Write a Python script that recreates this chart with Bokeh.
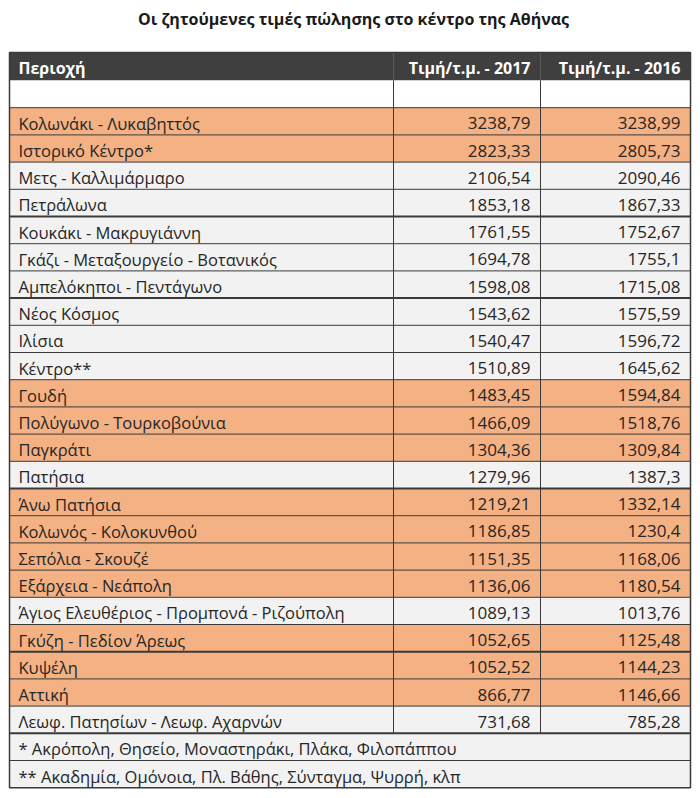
from bokeh.plotting import figure
from bokeh.models import Range1d
from bokeh.core.properties import value
from bokeh.embed import file_html
from bokeh.resources import INLINE

# ---------------- data ----------------
title = "Οι ζητούμενες τιμές πώλησης στο κέντρο της Αθήνας"
headers = ["Περιοχή", "Τιμή/τ.μ. - 2017", "Τιμή/τ.μ. - 2016"]
regions = [
    "Κολωνάκι - Λυκαβηττός",
    "Ιστορικό Κέντρο*",
    "Μετς - Καλλιμάρμαρο",
    "Πετράλωνα",
    "Κουκάκι - Μακρυγιάννη",
    "Γκάζι - Μεταξουργείο - Βοτανικός",
    "Αμπελόκηποι - Πεντάγωνο",
    "Νέος Κόσμος",
    "Ιλίσια",
    "Κέντρο**",
    "Γουδή",
    "Πολύγωνο - Τουρκοβούνια",
    "Παγκράτι",
    "Πατήσια",
    "Άνω Πατήσια",
    "Κολωνός - Κολοκυνθού",
    "Σεπόλια - Σκουζέ",
    "Εξάρχεια - Νεάπολη",
    "Άγιος Ελευθέριος - Προμπονά - Ριζούπολη",
    "Γκύζη - Πεδίον Άρεως",
    "Κυψέλη",
    "Αττική",
    "Λεωφ. Πατησίων - Λεωφ. Αχαρνών",
]
price_2017 = [3238.79, 2823.33, 2106.54, 1853.18, 1761.55, 1694.78, 1598.08,
              1543.62, 1540.47, 1510.89, 1483.45, 1466.09, 1304.36, 1279.96,
              1219.21, 1186.85, 1151.35, 1136.06, 1089.13, 1052.65, 1052.52,
              866.77, 731.68]
price_2016 = [3238.99, 2805.73, 2090.46, 1867.33, 1752.67, 1755.1, 1715.08,
              1575.59, 1596.72, 1645.62, 1594.84, 1518.76, 1309.84, 1387.3,
              1332.14, 1230.4, 1168.06, 1180.54, 1013.76, 1125.48, 1144.23,
              1146.66, 785.28]
highlight = [1, 1, 0, 0, 0, 0, 0, 0, 0, 0, 1, 1, 1, 0, 1, 1, 1, 1, 0, 1, 1, 1, 0]
footnotes = [
    "* Ακρόπολη, Θησείο, Μοναστηράκι, Πλάκα, Φιλοπάππου",
    "** Ακαδημία, Ομόνοια, Πλ. Βάθης, Σύνταγμα, Ψυρρή, κλπ",
]

# ---------------- styling ----------------
FONT = value("Open Sans")
ORANGE = "#F4B183"
GRAY = "#F2F2F2"
HEAD = "#3F3F3F"
LINE = "#3A3A3A"
TXT = "#262626"

X0, X1, X2, X3 = 9, 393, 540, 690
HEAD_TOP, HEAD_BOT = 52, 80
ROW_H = 27.2
PAD = 10
DY = 2


def fmt(v):
    s = f"{v:.2f}".rstrip("0").rstrip(".")
    return s.replace(".", ",")


n = len(regions)
row_top = [HEAD_BOT + (i + 1) * ROW_H for i in range(n)]
row_mid = [t + ROW_H / 2 for t in row_top]
fn_top = [HEAD_BOT + (n + 1 + j) * ROW_H for j in range(len(footnotes))]
fn_mid = [t + ROW_H / 2 for t in fn_top]
TABLE_BOT = fn_top[-1] + ROW_H

p = figure(width=700, height=798,
           x_range=Range1d(0, 700), y_range=Range1d(798, 0),
           output_backend="svg", toolbar_location=None, min_border=0,
           x_axis_location=None, y_axis_location=None)
p.grid.visible = False
p.outline_line_color = None
p.background_fill_color = "white"
p.border_fill_color = "white"

# title
p.text(x=[353], y=[18], text=[title], text_font=FONT, text_font_size="16px",
       text_font_style="bold", text_align="center", text_baseline="middle",
       text_color="#1a1a1a")

# header
p.quad(left=[X0], right=[X3], top=[HEAD_TOP], bottom=[HEAD_BOT],
       fill_color=HEAD, line_color=None)
p.text(x=[X0 + 9], y=[(HEAD_TOP + HEAD_BOT) / 2 + 1], text=[headers[0]],
       text_font=FONT, text_font_size="16px", text_font_style="bold",
       text_color="white", text_align="left", text_baseline="middle")
p.text(x=[X2 - PAD, X3 - PAD], y=[(HEAD_TOP + HEAD_BOT) / 2 + 1] * 2,
       text=headers[1:], text_font=FONT, text_font_size="16px",
       text_font_style="bold", text_color="white", text_align="right",
       text_baseline="middle")

# blank row
p.quad(left=[X0], right=[X3], top=[HEAD_BOT], bottom=[HEAD_BOT + ROW_H],
       fill_color="white", line_color=None)

# data rows
colors = [ORANGE if h else GRAY for h in highlight]
p.quad(left=[X0] * n, right=[X3] * n, top=row_top,
       bottom=[t + ROW_H for t in row_top], fill_color=colors, line_color=None)
p.quad(left=[X0] * 2, right=[X3] * 2, top=fn_top,
       bottom=[t + ROW_H for t in fn_top], fill_color=GRAY, line_color=None)

# grid lines
hy = [HEAD_BOT + k * ROW_H for k in range(1, n + 3)]
thick = {5, 8, 15, 21, 24}
p.segment(x0=[X0] * len(hy), x1=[X3] * len(hy), y0=hy, y1=hy,
          line_color=LINE, line_width=[2 if k in thick else 1 for k in range(1, n + 3)])
p.segment(x0=[X1, X2, X1, X2], x1=[X1, X2, X1, X2],
          y0=[HEAD_TOP, HEAD_TOP, HEAD_BOT, HEAD_BOT],
          y1=[HEAD_BOT, HEAD_BOT, fn_top[0], fn_top[0]],
          line_color=["#5a5a5a", "#5a5a5a", LINE, LINE], line_width=1)
p.quad(left=[X0], right=[X3], top=[HEAD_TOP], bottom=[TABLE_BOT],
       fill_color=None, line_color=LINE, line_width=1.5)

# texts
p.text(x=[X0 + 9] * n, y=[m + DY for m in row_mid], text=regions,
       text_font=FONT, text_font_size="16.5px", text_color=TXT,
       text_align="left", text_baseline="middle")
p.text(x=[X2 - PAD] * n, y=[m + DY for m in row_mid],
       text=[fmt(v) for v in price_2017], text_font=FONT,
       text_font_size="17px", text_color=TXT, text_align="right",
       text_baseline="middle")
p.text(x=[X3 - PAD] * n, y=[m + DY for m in row_mid],
       text=[fmt(v) for v in price_2016], text_font=FONT,
       text_font_size="17px", text_color=TXT, text_align="right",
       text_baseline="middle")
p.text(x=[X0 + 9] * 2, y=[m + DY for m in fn_mid], text=footnotes,
       text_font=FONT, text_font_size="16.5px", text_color=TXT,
       text_align="left", text_baseline="middle")

open("out.html", "w").write(file_html(p, INLINE))
